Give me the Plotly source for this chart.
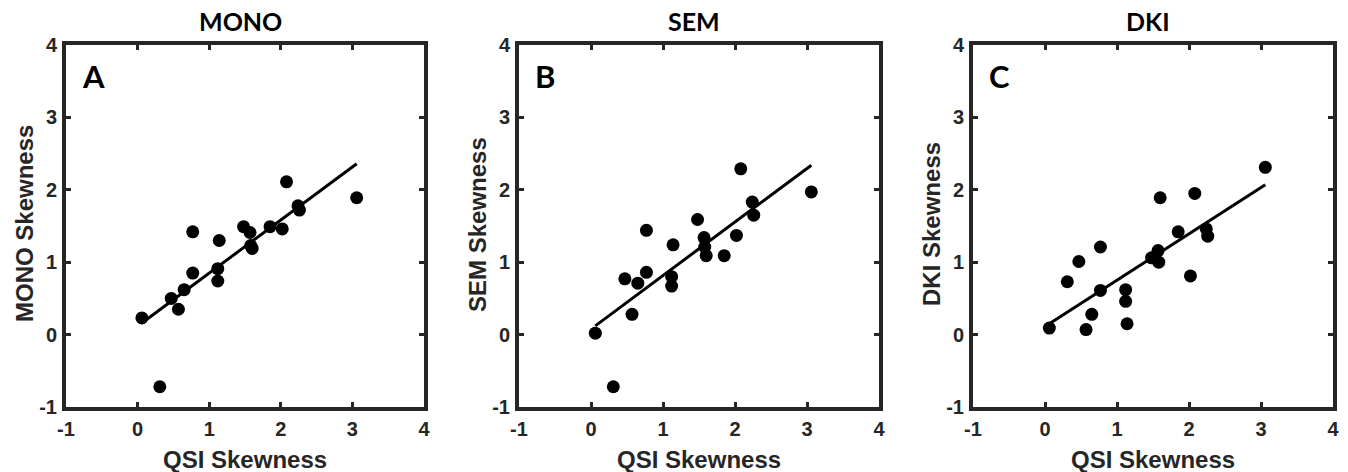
import plotly.graph_objects as go

# QSI skewness (x) shared by all panels
qsi = [0.06, 0.31, 0.47, 0.57, 0.65, 0.77, 0.77, 1.12, 1.12, 1.14,
       1.48, 1.57, 1.58, 1.60, 1.85, 2.02, 2.08, 2.24, 2.26, 3.06]

mono = [0.23, -0.72, 0.50, 0.35, 0.62, 1.42, 0.85, 0.91, 0.74, 1.30,
        1.49, 1.41, 1.23, 1.19, 1.49, 1.46, 2.11, 1.78, 1.72, 1.89]
sem = [0.02, -0.72, 0.77, 0.28, 0.71, 0.86, 1.44, 0.80, 0.67, 1.24,
       1.59, 1.34, 1.21, 1.09, 1.09, 1.37, 2.29, 1.83, 1.65, 1.97]
dki = [0.09, 0.73, 1.01, 0.07, 0.28, 1.21, 0.61, 0.62, 0.46, 0.15,
       1.06, 1.16, 1.00, 1.89, 1.42, 0.81, 1.95, 1.46, 1.36, 2.31]

# regression line endpoints
fit_x = [0.06, 3.06]
fit_mono = [0.16, 2.36]
fit_sem = [0.12, 2.34]
fit_dki = [0.15, 2.07]

titles = ["MONO", "SEM", "DKI"]
letters = ["A", "B", "C"]
ylabels = ["MONO Skewness", "SEM Skewness", "DKI Skewness"]
ticks = [-1, 0, 1, 2, 3, 4]

W, H = 1348, 472
frames_px = [(66, 424), (519, 879), (973, 1333)]
top_px, bot_px = 45, 407
ydom = [1 - bot_px / H, 1 - top_px / H]

AXC = "#262626"
SANS = "Liberation Sans, Arial, sans-serif"
tickfont = dict(family=SANS, size=20, color=AXC, weight="bold")
capfont = "Lato, Calibri, sans-serif"

fig = go.Figure()
series = [mono, sem, dki]
fits = [fit_mono, fit_sem, fit_dki]

annotations = []
for i in range(3):
    xa = "x" if i == 0 else f"x{i+1}"
    ya = "y" if i == 0 else f"y{i+1}"
    fig.add_trace(go.Scatter(x=fit_x, y=fits[i], mode="lines",
                             line=dict(color="black", width=3),
                             xaxis=xa, yaxis=ya, showlegend=False))
    fig.add_trace(go.Scatter(x=qsi, y=series[i], mode="markers",
                             marker=dict(color="black", size=13, line=dict(width=0)),
                             xaxis=xa, yaxis=ya, showlegend=False))
    l, r = frames_px[i]
    xdom = [l / W, r / W]
    axcommon = dict(range=[-1, 4], tickvals=ticks, ticktext=[str(t) for t in ticks],
                    showgrid=False, zeroline=False, showline=True, linewidth=4,
                    linecolor=AXC, mirror="allticks", ticks="inside", ticklen=5,
                    tickwidth=3, tickcolor=AXC, tickfont=tickfont, fixedrange=True,
                    automargin=False)
    xkey = "xaxis" if i == 0 else f"xaxis{i+1}"
    ykey = "yaxis" if i == 0 else f"yaxis{i+1}"
    fig.update_layout({
        xkey: dict(domain=xdom, anchor=ya, ticklabelstandoff=1, **axcommon),
        ykey: dict(domain=ydom, anchor=xa, ticklabelstandoff=1, **axcommon),
    })
    cx = (l + r) / 2
    annotations.append(dict(text=f"<b>{titles[i]}</b>", x=(cx - 5) / W, y=1 - 21 / H,
                            xref="paper", yref="paper", showarrow=False,
                            xanchor="center", yanchor="middle",
                            font=dict(family=capfont, size=25, color="black")))
    annotations.append(dict(text=f"<b>{letters[i]}</b>", x=(l + 14) / W, y=1 - 76 / H,
                            xref="paper", yref="paper", showarrow=False,
                            xanchor="left", yanchor="middle",
                            font=dict(family=capfont, size=31, color="black")))
    annotations.append(dict(text="<b>QSI Skewness</b>", x=cx / W, y=1 - 459 / H,
                            xref="paper", yref="paper", showarrow=False,
                            xanchor="center", yanchor="middle",
                            font=dict(family=SANS, size=24, color=AXC)))
    annotations.append(dict(text=f"<b>{ylabels[i]}</b>", x=(l - 42) / W,
                            y=1 - ((top_px + bot_px) / 2 - 2) / H,
                            xref="paper", yref="paper", showarrow=False, textangle=-90,
                            xanchor="center", yanchor="middle",
                            font=dict(family=SANS, size=24, color=AXC)))

fig.update_layout(width=W, height=H,
                  margin=dict(l=0, r=0, t=0, b=0, pad=0, autoexpand=False),
                  paper_bgcolor="white", plot_bgcolor="white",
                  annotations=annotations, showlegend=False)

fig.write_html("out.html")
